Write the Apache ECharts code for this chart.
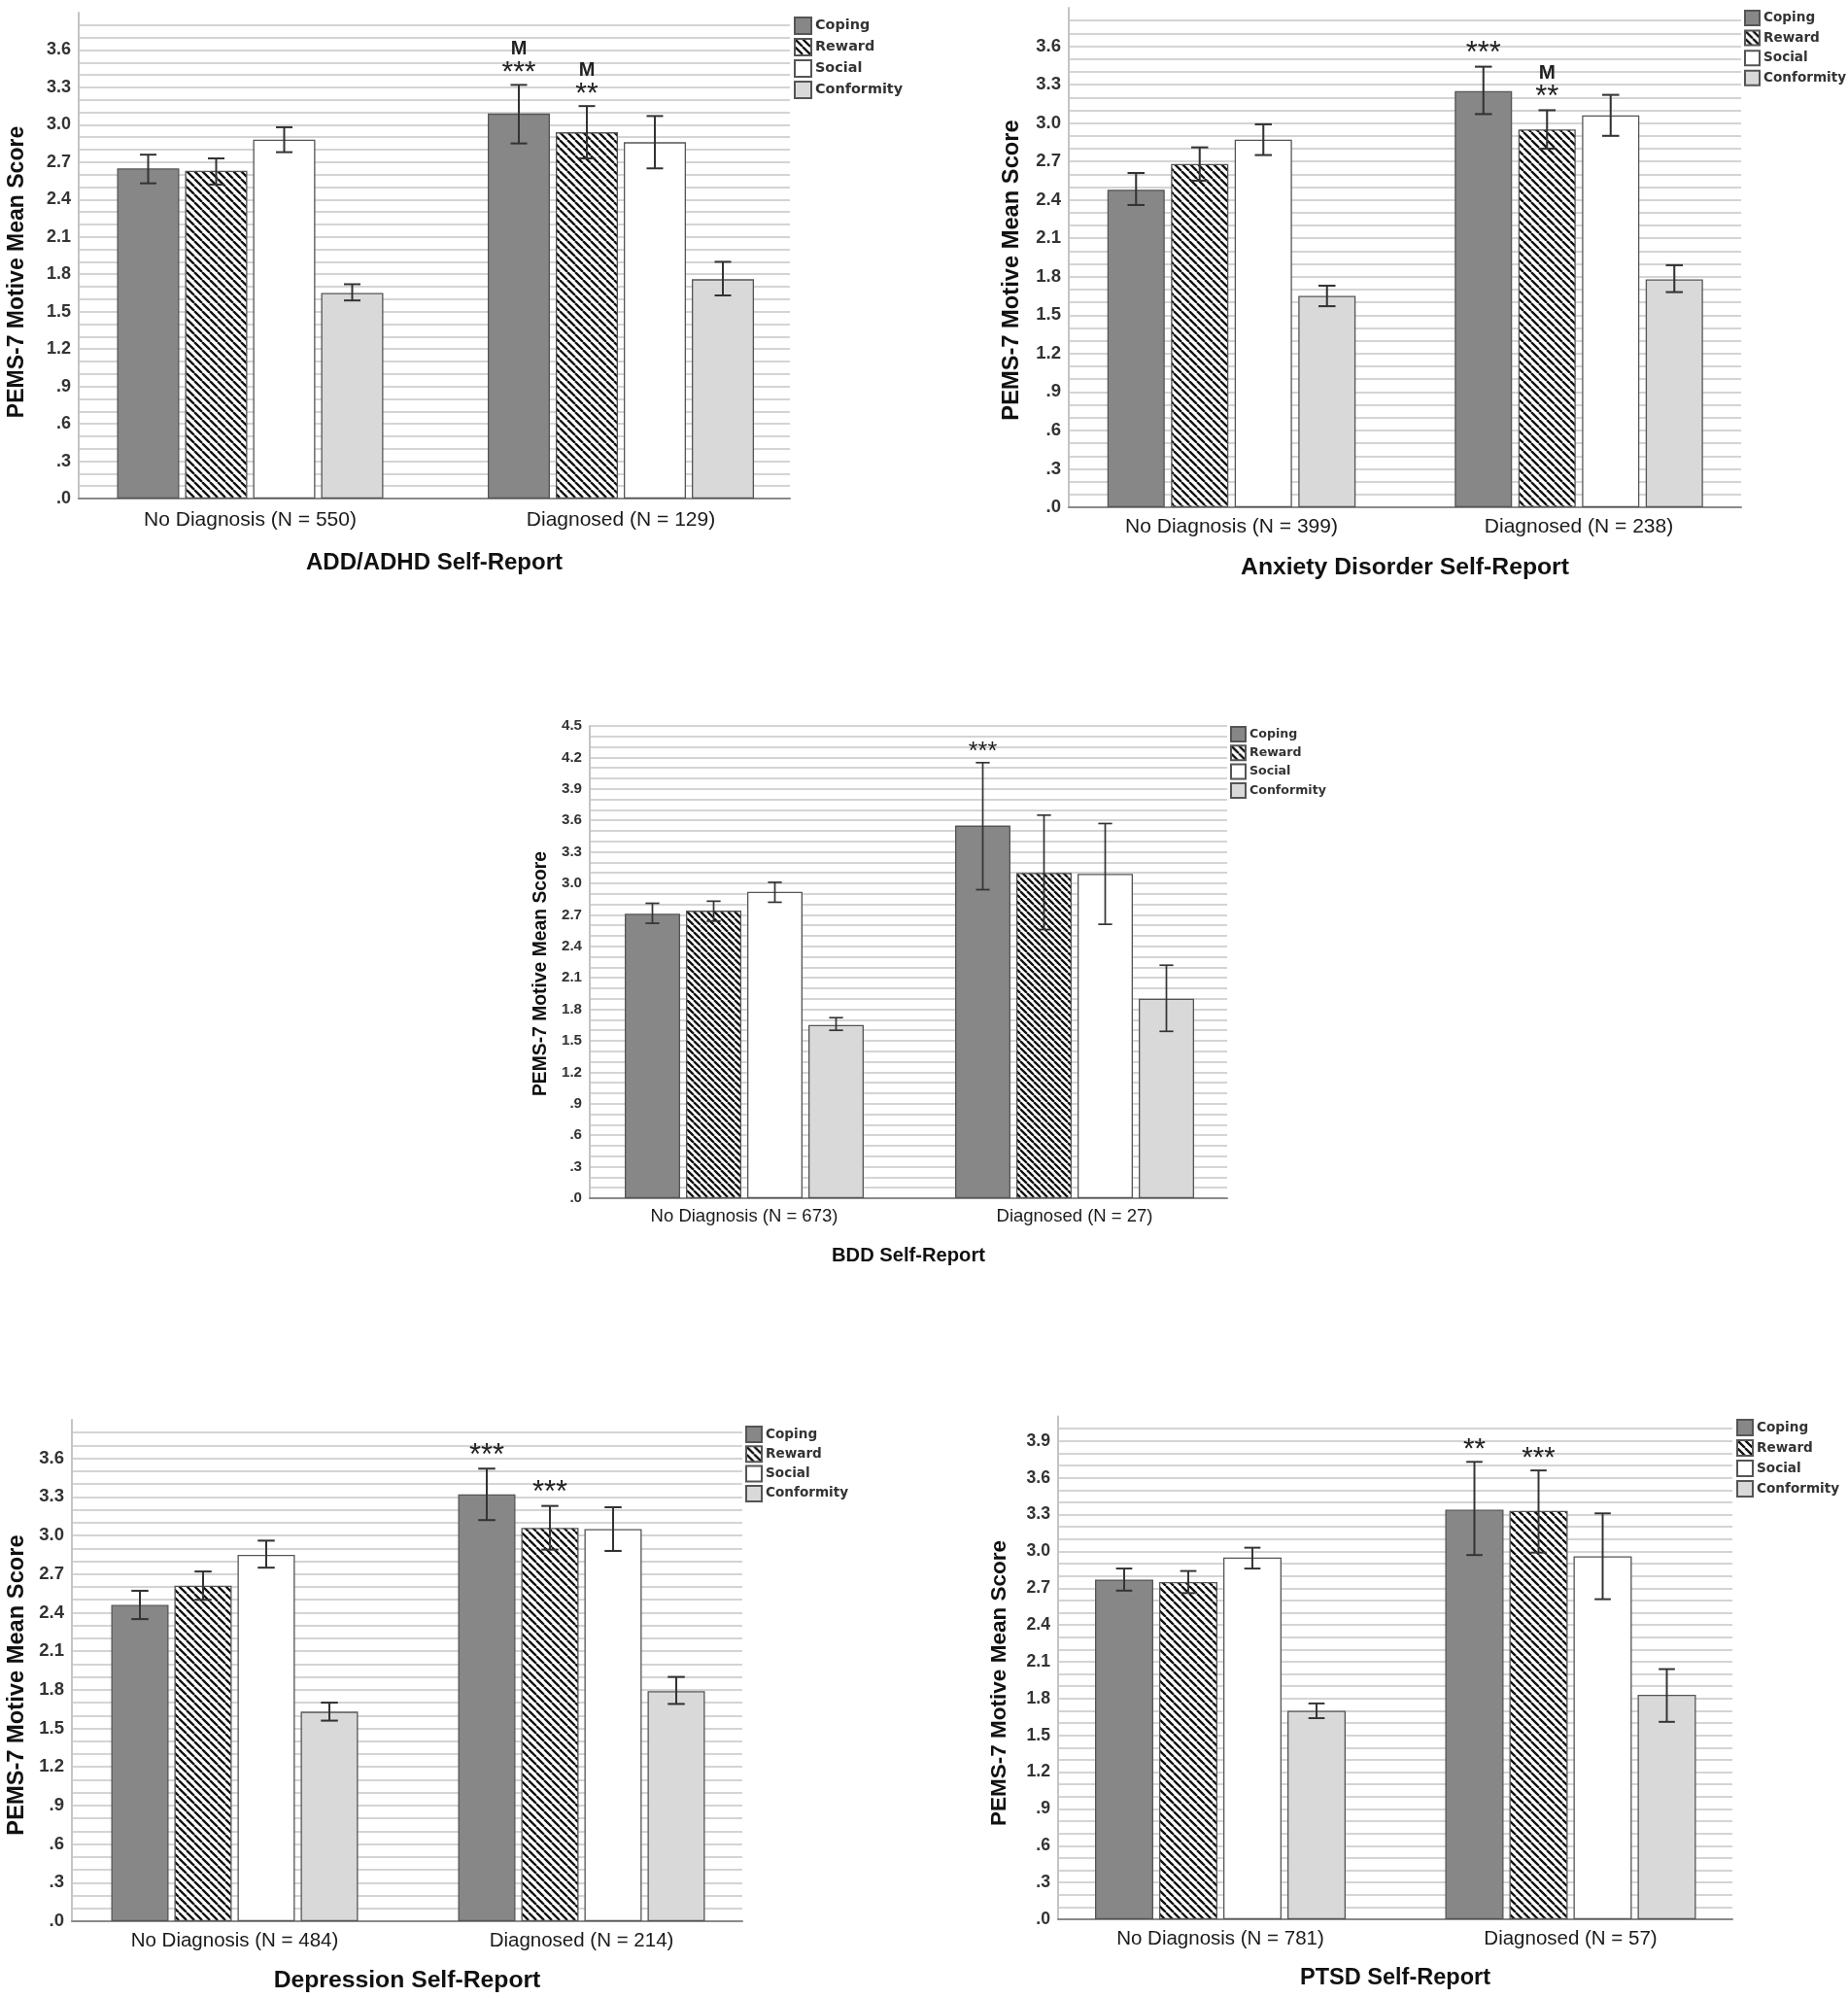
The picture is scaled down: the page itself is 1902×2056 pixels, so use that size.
<!DOCTYPE html>
<html>
<head>
<meta charset="utf-8">
<title>PEMS-7 motive mean scores by self-reported diagnosis</title>
<script src="https://cdn.jsdelivr.net/npm/echarts@6/dist/echarts.min.js"></script>
<style>
html, body { margin: 0; padding: 0; background: #fff; }
#chart { width: 1902px; height: 2056px; }
</style>
</head>
<body>
<div id="chart"></div>
<script>
var motives = ['Coping', 'Reward', 'Social', 'Conformity'];

// y tick labels, one every .3
var yLabels = ['.0', '.3', '.6', '.9', '1.2', '1.5', '1.8', '2.1', '2.4', '2.7', '3.0', '3.3', '3.6', '3.9', '4.2', '4.5'];

// rows = Coping, Reward, Social, Conformity ; columns = No Diagnosis, Diagnosed
var adhdCats = ['No Diagnosis (N = 550)', 'Diagnosed (N = 129)'];
var adhdMean = [[2.65, 3.09], [2.63, 2.94], [2.88, 2.86], [1.65, 1.76]];
var adhdLow = [[2.53, 2.85], [2.52, 2.73], [2.78, 2.65], [1.59, 1.63]];
var adhdHigh = [[2.76, 3.32], [2.73, 3.15], [2.98, 3.07], [1.72, 1.90]];
var adhdStars = [['', '***'], ['', '**'], ['', ''], ['', '']];
var adhdM = [['', 'M'], ['', 'M'], ['', ''], ['', '']];

var anxCats = ['No Diagnosis (N = 399)', 'Diagnosed (N = 238)'];
var anxMean = [[2.48, 3.25], [2.68, 2.95], [2.87, 3.06], [1.65, 1.78]];
var anxLow = [[2.36, 3.07], [2.55, 2.80], [2.75, 2.90], [1.57, 1.68]];
var anxHigh = [[2.61, 3.44], [2.81, 3.10], [2.99, 3.22], [1.73, 1.89]];
var anxStars = [['', '***'], ['', '**'], ['', ''], ['', '']];
var anxM = [['', ''], ['', 'M'], ['', ''], ['', '']];

var bddCats = ['No Diagnosis (N = 673)', 'Diagnosed (N = 27)'];
var bddMean = [[2.71, 3.55], [2.74, 3.10], [2.92, 3.09], [1.65, 1.90]];
var bddLow = [[2.62, 2.94], [2.64, 2.56], [2.82, 2.61], [1.60, 1.59]];
var bddHigh = [[2.81, 4.15], [2.83, 3.65], [3.01, 3.57], [1.72, 2.22]];
var bddStars = [['', '***'], ['', ''], ['', ''], ['', '']];
var bddM = [['', ''], ['', ''], ['', ''], ['', '']];

var depCats = ['No Diagnosis (N = 484)', 'Diagnosed (N = 214)'];
var depMean = [[2.46, 3.32], [2.61, 3.06], [2.85, 3.05], [1.63, 1.79]];
var depLow = [[2.35, 3.12], [2.50, 2.89], [2.75, 2.88], [1.56, 1.69]];
var depHigh = [[2.57, 3.52], [2.72, 3.23], [2.96, 3.22], [1.70, 1.90]];
var depStars = [['', '***'], ['', '***'], ['', ''], ['', '']];
var depM = [['', ''], ['', ''], ['', ''], ['', '']];

var ptsdCats = ['No Diagnosis (N = 781)', 'Diagnosed (N = 57)'];
var ptsdMean = [[2.77, 3.34], [2.75, 3.33], [2.95, 2.96], [1.70, 1.83]];
var ptsdLow = [[2.68, 2.97], [2.66, 2.99], [2.86, 2.61], [1.64, 1.61]];
var ptsdHigh = [[2.86, 3.73], [2.84, 3.66], [3.03, 3.31], [1.76, 2.04]];
var ptsdStars = [['', '**'], ['', '***'], ['', ''], ['', '']];
var ptsdM = [['', ''], ['', ''], ['', ''], ['', '']];

// layout of the five panels (pixels)
// left/right = visible plot frame, bandL/bandR = span the two clusters are laid out on
var panels = [
    { cats: adhdCats, mean: adhdMean, low: adhdLow, high: adhdHigh, stars: adhdStars, marks: adhdM,
      title: 'ADD/ADHD Self-Report', left: 81, right: 813, bandL: 66.75, bandR: 829.75, top: 13, bottom: 513,
      max: 3.9, lastLabel: 12, maxLine: false,
      bw: 64, gap: 6, s: 1, legendX: 817, legendY: 17, box: 17, step: 21.7, legendFont: 14.4,
      titleX: 447, titleY: 579, yTitleX: 18, yTitleY: 280, catFont: 21, catY: 535, hatch: 8 },
    { cats: anxCats, mean: anxMean, low: anxLow, high: anxHigh, stars: anxStars, marks: anxM,
      title: 'Anxiety Disorder Self-Report', left: 1100, right: 1792, bandL: 1088.75, bandR: 1803.75, top: 8, bottom: 522,
      max: 3.9, lastLabel: 12, maxLine: false,
      bw: 59, gap: 6.5, s: 1.03, legendX: 1795, legendY: 10, box: 15, step: 20.3, legendFont: 13.6,
      titleX: 1446, titleY: 584, yTitleX: 1041, yTitleY: 278, catFont: 21, catY: 542, hatch: 8 },
    { cats: bddCats, mean: bddMean, low: bddLow, high: bddHigh, stars: bddStars, marks: bddM,
      title: 'BDD Self-Report', left: 607, right: 1263, bandL: 596, bandR: 1276, top: 747, bottom: 1233,
      max: 4.5, lastLabel: 15, maxLine: true,
      bw: 57, gap: 6, s: 0.84, legendX: 1266, legendY: 747, box: 15, step: 19, legendFont: 12.6,
      titleX: 935, titleY: 1292, yTitleX: 557, yTitleY: 1002, catFont: 18.5, catY: 1252, hatch: 7 },
    { cats: depCats, mean: depMean, low: depLow, high: depHigh, stars: depStars, marks: depM,
      title: 'Depression Self-Report', left: 74, right: 764, bandL: 63, bandR: 777, top: 1461, bottom: 1977,
      max: 3.9, lastLabel: 12, maxLine: false,
      bw: 59, gap: 6, s: 1.03, legendX: 767, legendY: 1467, box: 16, step: 20, legendFont: 13.6,
      titleX: 419, titleY: 2038, yTitleX: 17, yTitleY: 1734, catFont: 20.5, catY: 1997, hatch: 8 },
    { cats: ptsdCats, mean: ptsdMean, low: ptsdLow, high: ptsdHigh, stars: ptsdStars, marks: ptsdM,
      title: 'PTSD Self-Report', left: 1089, right: 1783, bandL: 1075.75, bandR: 1796.75, top: 1457.6, bottom: 1975,
      max: 4.1, lastLabel: 13, maxLine: false,
      bw: 60, gap: 6, s: 0.98, legendX: 1787, legendY: 1460, box: 16, step: 20.7, legendFont: 13.6,
      titleX: 1436, titleY: 2036, yTitleX: 1029, yTitleY: 1732, catFont: 20.5, catY: 1995, hatch: 8 }
];

var sansFont = "'Liberation Sans', Arial, sans-serif";
var narrowFont = "'Liberation Sans Narrow', 'Liberation Sans', Arial, sans-serif";

// diagonal hatch used for Reward bars
function makeHatch(p) {
    var c = document.createElement('canvas');
    c.width = p;
    c.height = p;
    var ctx = c.getContext('2d');
    ctx.fillStyle = '#ffffff';
    ctx.fillRect(0, 0, p, p);
    ctx.strokeStyle = '#111111';
    ctx.lineWidth = 2.3;
    ctx.beginPath();
    ctx.moveTo(0, 0); ctx.lineTo(p, p);
    ctx.moveTo(-p, 0); ctx.lineTo(0, p);
    ctx.moveTo(p, 0); ctx.lineTo(2 * p, p);
    ctx.stroke();
    return { image: c, repeat: 'repeat' };
}

var option = {
    animation: false,
    backgroundColor: '#ffffff',
    grid: [], xAxis: [], yAxis: [], legend: [], series: [], graphic: []
};

panels.forEach(function (p, i) {
    var s = p.s;
    var fills = ['#878787', makeHatch(p.hatch), '#ffffff', '#d9d9d9'];
    var frame = 2 * i, band = 2 * i + 1;

    // frame grid: axis lines, grid lines and y labels
    option.grid.push({
        left: p.left, top: p.top, width: p.right - p.left, height: p.bottom - p.top, containLabel: false
    });
    // band grid: bars, error bars and category labels
    option.grid.push({
        left: p.bandL, top: p.top, width: p.bandR - p.bandL, height: p.bottom - p.top, containLabel: false
    });

    option.xAxis.push({
        type: 'category', gridIndex: frame, data: p.cats,
        axisLine: { lineStyle: { color: '#8a8a8a', width: 2 } },
        axisTick: { show: false }, axisLabel: { show: false }, splitLine: { show: false }
    });
    option.xAxis.push({
        type: 'category', gridIndex: band, data: p.cats,
        axisLine: { show: false }, axisTick: { show: false }, splitLine: { show: false },
        axisLabel: {
            margin: p.catY - p.bottom - p.catFont / 2,
            fontSize: p.catFont, fontFamily: sansFont, color: '#1a1a1a'
        }
    });

    option.yAxis.push({
        type: 'value', gridIndex: frame, min: 0, max: p.max, interval: 0.1,
        axisLine: { show: true, lineStyle: { color: '#c4c4c4', width: 2 } },
        axisTick: { show: false },
        axisLabel: {
            margin: 8, fontSize: 18 * s, fontWeight: 'bold', fontFamily: narrowFont, color: '#333',
            formatter: function (v) {
                var t = Math.round(v * 10);
                if (t % 3 !== 0) return '';
                var idx = t / 3;
                return idx <= p.lastLabel ? yLabels[idx] : '';
            }
        },
        splitLine: {
            show: true, showMaxLine: p.maxLine,
            lineStyle: { color: '#d4d4d4', width: 2 }
        }
    });
    option.yAxis.push({
        type: 'value', gridIndex: band, min: 0, max: p.max, show: false
    });

    // the legend text box is a little taller than the swatch, so take that off the gap
    option.legend.push({
        data: motives, orient: 'vertical',
        left: p.legendX, top: p.legendY, padding: 0,
        itemWidth: p.box, itemHeight: p.box, itemGap: p.step - p.box - 1.7,
        icon: 'rect', selectedMode: false,
        textStyle: {
            fontFamily: "'DejaVu Sans', Verdana, sans-serif", fontWeight: 'bold',
            fontSize: p.legendFont, color: '#333', padding: [0, 0, 0, -1]
        }
    });

    motives.forEach(function (name, k) {
        option.series.push({
            type: 'bar', name: name, xAxisIndex: band, yAxisIndex: band,
            data: p.mean[k],
            barWidth: p.bw, barGap: (p.gap / p.bw * 100).toFixed(2) + '%',
            itemStyle: { color: fills[k], borderColor: '#555', borderWidth: 1.3 },
            emphasis: { disabled: true },
            silent: true
        });
    });

    // error bars and significance marks
    var errData = [];
    for (var k = 0; k < 4; k++) {
        for (var c = 0; c < p.cats.length; c++) {
            errData.push([c, k, p.low[k][c], p.high[k][c]]);
        }
    }
    option.series.push({
        type: 'custom', xAxisIndex: band, yAxisIndex: band, z: 5, silent: true, clip: false,
        data: errData,
        encode: { x: 0, y: [2, 3] },
        renderItem: function (params, api) {
            var cat = api.value(0), k = api.value(1);
            var top = api.coord([cat, api.value(3)]);
            var bot = api.coord([cat, api.value(2)]);
            var x = top[0] + (k - 1.5) * (p.bw + p.gap);
            var half = 8.5 * s;
            var lw = 2 * Math.max(s, 0.85);
            var st = { stroke: '#333', lineWidth: lw };
            var kids = [
                { type: 'line', shape: { x1: x, y1: top[1], x2: x, y2: bot[1] }, style: st },
                { type: 'line', shape: { x1: x - half, y1: top[1], x2: x + half, y2: top[1] }, style: st },
                { type: 'line', shape: { x1: x - half, y1: bot[1], x2: x + half, y2: bot[1] }, style: st }
            ];
            var star = p.stars[k][cat], mark = p.marks[k][cat];
            if (star) {
                kids.push({ type: 'text', style: {
                    text: star, x: x, y: top[1] - 12.5 * s, align: 'center', verticalAlign: 'middle',
                    fontSize: 30 * s, fontFamily: sansFont, fill: '#222' } });
            }
            if (mark) {
                kids.push({ type: 'text', style: {
                    text: mark, x: x, y: top[1] - 37 * s, align: 'center', verticalAlign: 'middle',
                    fontSize: 20 * s, fontWeight: 'bold', fontFamily: sansFont, fill: '#222' } });
            }
            return { type: 'group', children: kids };
        }
    });

    option.graphic.push({
        type: 'text', x: p.titleX, y: p.titleY, silent: true,
        style: { text: p.title, align: 'center', verticalAlign: 'middle',
                 fontSize: 24 * s, fontWeight: 'bold', fontFamily: sansFont, fill: '#111' }
    });
    option.graphic.push({
        type: 'text', x: p.yTitleX, y: p.yTitleY, rotation: Math.PI / 2, silent: true,
        style: { text: 'PEMS-7 Motive Mean Score', align: 'center', verticalAlign: 'middle',
                 fontSize: 23 * s, fontWeight: 'bold', fontFamily: sansFont, fill: '#111' }
    });
});

var myChart = echarts.init(document.getElementById('chart'), null, { renderer: 'canvas' });
myChart.setOption(option);
</script>
</body>
</html>
